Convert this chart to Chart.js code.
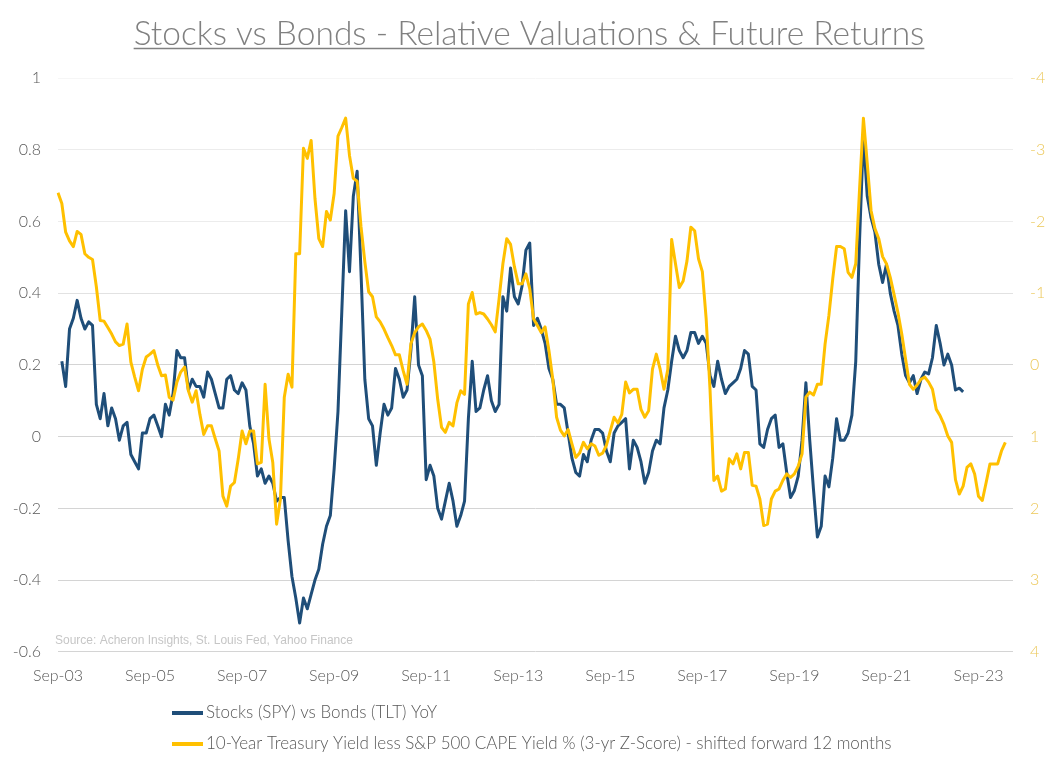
<!DOCTYPE html>
<html>
<head>
<meta charset="utf-8">
<script src="https://cdn.jsdelivr.net/npm/chart.js@4.4.1/dist/chart.umd.min.js"></script>
<style>
  body { margin: 0; background: #fff; }
</style>
</head>
<body>
<canvas id="myChart" width="1058" height="768"></canvas>
<script>
// months on the axis, Sep-03 onwards (last few are empty room at the right edge)
const monthNames = ['Jan', 'Feb', 'Mar', 'Apr', 'May', 'Jun', 'Jul', 'Aug', 'Sep', 'Oct', 'Nov', 'Dec'];
const categories = [];
for (let i = 0; i < 250; i++) {
    const m = (8 + i) % 12;
    const y = 3 + Math.floor((8 + i) / 12);
    categories.push(monthNames[m] + '-' + String(y).padStart(2, '0'));
}

// Stocks (SPY) vs Bonds (TLT) YoY, left axis
const stocksVsBonds = [
    null, 0.21, 0.14, 0.30, 0.33, 0.38, 0.33, 0.30, 0.32, 0.31,
    0.09, 0.05, 0.12, 0.03, 0.08, 0.05, -0.01, 0.03, 0.04, -0.05,
    -0.07, -0.09, 0.01, 0.01, 0.05, 0.06, 0.03, 0.00, 0.09, 0.06,
    0.12, 0.24, 0.22, 0.22, 0.13, 0.16, 0.14, 0.14, 0.11, 0.18,
    0.16, 0.12, 0.08, 0.08, 0.16, 0.17, 0.13, 0.12, 0.15, 0.13,
    0.03, -0.02, -0.11, -0.09, -0.13, -0.11, -0.13, -0.18, -0.17, -0.17,
    -0.29, -0.39, -0.45, -0.52, -0.45, -0.48, -0.44, -0.40, -0.37, -0.30,
    -0.25, -0.22, -0.09, 0.07, 0.35, 0.63, 0.46, 0.67, 0.74, 0.46,
    0.16, 0.05, 0.03, -0.08, 0.01, 0.09, 0.06, 0.08, 0.19, 0.16,
    0.11, 0.13, 0.24, 0.39, 0.20, 0.17, -0.12, -0.08, -0.11, -0.20,
    -0.23, -0.18, -0.13, -0.18, -0.25, -0.22, -0.18, 0.05, 0.21, 0.07,
    0.08, 0.13, 0.17, 0.10, 0.07, 0.09, 0.39, 0.35, 0.47, 0.39,
    0.37, 0.42, 0.52, 0.54, 0.31, 0.33, 0.30, 0.26, 0.19, 0.16,
    0.09, 0.09, 0.08, 0.01, -0.06, -0.10, -0.11, -0.05, -0.07, -0.01,
    0.02, 0.02, 0.01, -0.04, -0.07, 0.01, 0.03, 0.04, 0.05, -0.09,
    -0.01, -0.03, -0.07, -0.13, -0.10, -0.04, -0.01, -0.02, 0.08, 0.13,
    0.21, 0.28, 0.24, 0.22, 0.24, 0.29, 0.29, 0.26, 0.28, 0.26,
    0.17, 0.14, 0.21, 0.16, 0.12, 0.14, 0.15, 0.16, 0.19, 0.24,
    0.23, 0.14, 0.13, -0.02, -0.03, 0.02, 0.05, 0.06, -0.03, -0.02,
    -0.10, -0.17, -0.15, -0.11, -0.01, 0.15, -0.01, -0.15, -0.28, -0.25,
    -0.11, -0.14, -0.06, 0.05, -0.01, -0.01, 0.01, 0.06, 0.21, 0.55,
    0.84, 0.67, 0.61, 0.57, 0.48, 0.43, 0.48, 0.40, 0.35, 0.31,
    0.23, 0.17, 0.15, 0.17, 0.12, 0.16, 0.18, 0.175, 0.22, 0.31,
    0.26, 0.20, 0.23, 0.20, 0.13, 0.135, 0.125
];

// 10y yield less CAPE yield, 3-yr z-score, shifted forward 12 months, right axis (inverted)
const yieldGapZ = [
    -2.40, -2.25, -1.85, -1.73, -1.65, -1.86, -1.82, -1.55, -1.50, -1.47,
    -1.09, -0.62, -0.61, -0.52, -0.43, -0.32, -0.27, -0.29, -0.57, -0.04,
    0.17, 0.36, 0.06, -0.11, -0.15, -0.20, 0.00, 0.15, 0.14, 0.45,
    0.49, 0.24, 0.10, 0.03, 0.36, 0.52, 0.36, 0.69, 0.97, 0.85,
    0.85, 1.03, 1.20, 1.83, 1.97, 1.69, 1.64, 1.31, 0.92, 1.10,
    0.92, 0.92, 1.38, 1.36, 0.27, 1.03, 1.36, 2.22, 1.87, 0.45,
    0.13, 0.31, -1.55, -1.55, -3.02, -2.88, -3.13, -2.32, -1.76, -1.65,
    -2.14, -2.02, -2.39, -3.19, -3.31, -3.44, -2.92, -2.60, -2.56, -1.93,
    -1.44, -1.02, -0.95, -0.67, -0.60, -0.50, -0.38, -0.27, -0.14, -0.14,
    0.08, 0.27, -0.29, -0.45, -0.53, -0.57, -0.48, -0.36, -0.04, 0.48,
    0.87, 0.94, 0.80, 0.85, 0.53, 0.36, 0.41, -0.85, -1.01, -0.71,
    -0.73, -0.71, -0.64, -0.56, -0.46, -0.92, -1.41, -1.76, -1.68, -1.37,
    -1.13, -1.13, -1.27, -1.06, -0.64, -0.55, -0.45, -0.53, -0.20, 0.20,
    0.73, 0.91, 0.99, 0.90, 1.10, 1.29, 1.23, 1.08, 1.17, 1.10,
    1.13, 1.26, 1.23, 1.12, 0.92, 0.73, 0.81, 0.69, 0.24, 0.39,
    0.34, 0.34, 0.62, 0.73, 0.64, 0.06, -0.15, 0.06, 0.34, 0.06,
    -1.75, -1.41, -1.08, -1.17, -1.45, -1.92, -1.87, -1.48, -1.30, -0.64,
    0.34, 1.61, 1.55, 1.76, 1.73, 1.31, 1.38, 1.24, 1.45, 1.22,
    1.22, 1.68, 1.69, 1.87, 2.24, 2.22, 1.87, 1.76, 1.73, 1.61,
    1.52, 1.57, 1.52, 1.41, 1.24, 0.45, 0.38, 0.42, 0.27, 0.27,
    -0.29, -0.69, -1.20, -1.65, -1.65, -1.62, -1.29, -1.22, -1.41, -2.46,
    -3.44, -2.81, -2.15, -1.90, -1.76, -1.51, -1.41, -1.22, -0.98, -0.73,
    -0.43, -0.08, 0.27, 0.34, 0.28, 0.20, 0.17, 0.24, 0.34, 0.62,
    0.71, 0.83, 0.99, 1.08, 1.60, 1.80, 1.69, 1.43, 1.38, 1.52,
    1.83, 1.89, 1.64, 1.38, 1.38, 1.38, 1.20, 1.08
];

const titleText = 'Stocks vs Bonds - Relative Valuations & Future Returns';
const sourceText = 'Source: Acheron Insights, St. Louis Fed, Yahoo Finance';
const titleFont = { family: 'Lato', size: 33.5, weight: 300 };

// underline for the title, the source note and the two-row legend
const extras = {
    id: 'extras',
    afterDraw(chart) {
        const ctx = chart.ctx;
        const area = chart.chartArea;
        const tb = chart.titleBlock;
        ctx.save();

        ctx.font = `${titleFont.weight} ${titleFont.size}px ${titleFont.family}`;
        ctx.textBaseline = 'middle';
        const m = ctx.measureText(titleText);
        const cx = (tb.left + tb.right) / 2;
        const ty = tb.top + tb.options.padding.top + titleFont.size * 0.6;
        const uy = Math.round(ty + m.actualBoundingBoxDescent + 3) + 0.5;
        ctx.strokeStyle = '#808080';
        ctx.lineWidth = 1.5;
        ctx.beginPath();
        ctx.moveTo(cx - m.width / 2, uy);
        ctx.lineTo(cx + m.width / 2, uy);
        ctx.stroke();

        ctx.font = '12px "Liberation Sans"';
        ctx.fillStyle = '#c6c6c6';
        ctx.textAlign = 'left';
        ctx.fillText(sourceText, area.left - 3, area.bottom - 11);

        ctx.font = '300 17px Lato';
        ctx.fillStyle = '#595959';
        chart.data.datasets.forEach((ds, i) => {
            const y = chart.height - 55 + i * 31;
            ctx.strokeStyle = ds.borderColor;
            ctx.lineWidth = 4;
            ctx.beginPath();
            ctx.moveTo(172, y);
            ctx.lineTo(203, y);
            ctx.stroke();
            ctx.fillText(ds.label, 206, y);
        });
        ctx.restore();
    }
};

function gridColor(c) {
    const v = c.tick ? c.tick.value : 0;
    if (v > 0.9) return '#f6f6f6';
    if (v > 0.5) return '#ececec';
    if (v > 0.3) return '#e2e2e2';
    return '#d4d4d4';
}

const ctx = document.getElementById('myChart').getContext('2d');

let chart = new Chart(ctx, {
    type: 'line',
    data: {
        labels: categories,
        datasets: [
            {
                label: 'Stocks (SPY) vs Bonds (TLT) YoY',
                data: stocksVsBonds,
                borderColor: '#1f4e79',
                yAxisID: 'y',
                order: 1
            },
            {
                label: '10-Year Treasury Yield less S&P 500 CAPE Yield % (3-yr Z-Score) - shifted forward 12 months',
                data: yieldGapZ,
                borderColor: '#ffc000',
                yAxisID: 'y1',
                order: 0
            }
        ]
    },
    options: {
        responsive: false,
        animation: false,
        devicePixelRatio: 1,
        layout: { padding: { top: 0, left: 0, right: 0, bottom: 77 } },
        elements: {
            point: { radius: 0 },
            line: { borderWidth: 3, tension: 0, borderJoinStyle: 'round' }
        },
        plugins: {
            legend: { display: false },
            tooltip: { enabled: false },
            title: {
                display: true,
                text: titleText,
                color: '#808080',
                font: titleFont,
                padding: { top: 14, bottom: 23.8 }
            }
        },
        scales: {
            x: {
                grid: { display: false },
                border: { display: false },
                ticks: {
                    autoSkip: false,
                    maxRotation: 0,
                    padding: 6,
                    color: '#595959',
                    font: { family: 'Lato', size: 16, weight: 300 },
                    callback: function (value, index) {
                        return index % 24 === 0 ? this.getLabelForValue(value) : '';
                    }
                }
            },
            y: {
                position: 'left',
                min: -0.6,
                max: 1,
                border: { display: false },
                grid: { color: gridColor, drawTicks: false, lineWidth: 1 },
                ticks: {
                    stepSize: 0.2,
                    padding: 17,
                    color: '#595959',
                    font: { family: 'Lato', size: 16, weight: 300 },
                    callback: v => String(+v.toFixed(1))
                },
                afterFit: s => { s.width = 58; }
            },
            y1: {
                position: 'right',
                min: -4,
                max: 4,
                reverse: true,
                border: { display: false },
                grid: { display: false, drawTicks: false },
                ticks: {
                    stepSize: 1,
                    padding: 17,
                    color: '#ecc85a',
                    font: { family: 'Lato', size: 16, weight: 300 }
                },
                afterFit: s => { s.width = 45; }
            }
        }
    },
    plugins: [extras]
});
</script>
</body>
</html>
